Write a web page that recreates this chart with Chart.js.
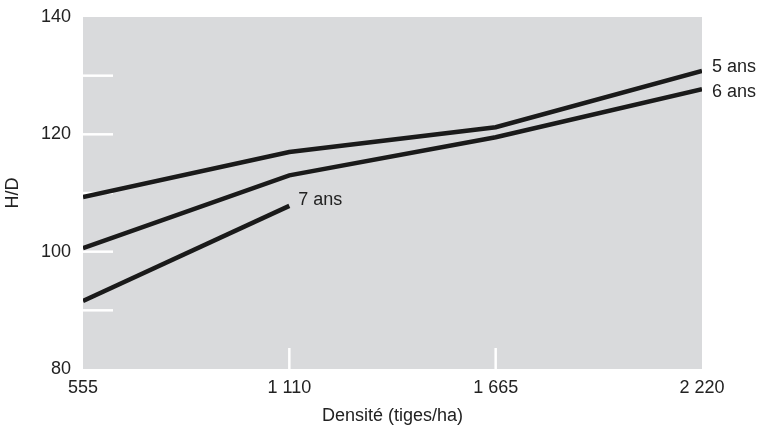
<!DOCTYPE html>
<html>
<head>
<meta charset="utf-8">
<script src="https://cdn.jsdelivr.net/npm/chart.js@4"></script>
<style>
  html, body { margin: 0; padding: 0; background: #fff; }
  #wrap { width: 757px; height: 432px; }
</style>
</head>
<body>
<div id="wrap"><canvas id="chart" width="757" height="432"></canvas></div>
<script>
// data
const densities = [555, 1110, 1665, 2220];
const xTickLabels = ['555', '1 110', '1 665', '2 220'];
const hd5ans = [109.3, 117, 121.2, 130.8];
const hd6ans = [100.6, 113, 119.5, 127.7];
const hd7ans = [91.6, 107.8, null, null];
const seriesNames = ['5 ans', '6 ans', '7 ans'];
const yTicks = [80, 100, 120, 140];
const yMinorTicks = [90, 100, 110, 120, 130];
const xInnerTicks = [1110, 1665];

const FONT = "'Liberation Sans', Arial, sans-serif";
const FSIZE = 18;
const TEXT = '#222';

function pts(arr) {
  return densities.map((d, i) => ({ x: d, y: arr[i] }));
}

// label offsets from the last point of each line
const labelOffsets = [[10, -4], [10, 3], [9, -6]];

const plotBg = {
  id: 'plotBg',
  beforeDraw(chart) {
    const { ctx, chartArea: a } = chart;
    ctx.save();
    ctx.fillStyle = '#d9dadc';
    ctx.fillRect(a.left, a.top, a.right - a.left, a.bottom - a.top);
    ctx.restore();
  },
  beforeDatasetsDraw(chart) {
    const { ctx, chartArea: a, scales } = chart;
    ctx.save();
    ctx.strokeStyle = '#fff';
    ctx.lineWidth = 2.5;
    yMinorTicks.forEach(v => {
      const y = scales.y.getPixelForValue(v);
      ctx.beginPath();
      ctx.moveTo(a.left, y);
      ctx.lineTo(a.left + 30, y);
      ctx.stroke();
    });
    xInnerTicks.forEach(v => {
      const x = scales.x.getPixelForValue(v);
      ctx.beginPath();
      ctx.moveTo(x, a.bottom);
      ctx.lineTo(x, a.bottom - 21);
      ctx.stroke();
    });
    ctx.restore();
  },
  afterDatasetsDraw(chart) {
    const { ctx } = chart;
    ctx.save();
    ctx.font = FSIZE + 'px ' + FONT;
    ctx.fillStyle = TEXT;
    ctx.textBaseline = 'middle';
    chart.data.datasets.forEach((ds, i) => {
      const meta = chart.getDatasetMeta(i);
      let last = null;
      meta.data.forEach((p, j) => { if (ds.data[j].y != null) last = p; });
      if (!last) return;
      ctx.fillText(seriesNames[i], last.x + labelOffsets[i][0], last.y + labelOffsets[i][1]);
    });
    ctx.restore();
  }
};

const lineStyle = {
  borderColor: '#1a1a1a',
  borderWidth: 4.5,
  pointRadius: 0,
  tension: 0,
  fill: false,
  spanGaps: false
};

new Chart(document.getElementById('chart'), {
  type: 'line',
  data: {
    datasets: [
      Object.assign({ label: seriesNames[0], data: pts(hd5ans) }, lineStyle),
      Object.assign({ label: seriesNames[1], data: pts(hd6ans) }, lineStyle),
      Object.assign({ label: seriesNames[2], data: pts(hd7ans) }, lineStyle)
    ]
  },
  options: {
    responsive: false,
    animation: false,
    layout: { padding: { top: 17, right: 55, left: 0, bottom: 0 } },
    plugins: {
      legend: { display: false },
      tooltip: { enabled: false }
    },
    scales: {
      x: {
        type: 'linear',
        min: 555,
        max: 2220,
        afterBuildTicks(scale) {
          scale.ticks = densities.map(v => ({ value: v }));
        },
        afterFit(scale) {
          scale.height = 63;
          scale.paddingLeft = 0;
          scale.paddingRight = 0;
        },
        grid: { display: false, drawTicks: false },
        border: { display: false },
        ticks: {
          padding: 8,
          color: TEXT,
          font: { family: FONT, size: FSIZE },
          maxRotation: 0,
          callback(v) {
            const i = densities.indexOf(v);
            return i >= 0 ? xTickLabels[i] : '';
          }
        },
        title: {
          display: true,
          text: 'Densité (tiges/ha)',
          color: TEXT,
          font: { family: FONT, size: FSIZE },
          padding: { top: 0, bottom: 5 }
        }
      },
      y: {
        min: 80,
        max: 140,
        afterBuildTicks(scale) {
          scale.ticks = yTicks.map(v => ({ value: v }));
        },
        afterFit(scale) {
          scale.width = 83;
          scale.paddingTop = 0;
          scale.paddingBottom = 0;
        },
        grid: { display: false, drawTicks: false },
        border: { display: false },
        ticks: {
          padding: 12,
          color: TEXT,
          font: { family: FONT, size: FSIZE }
        },
        title: {
          display: true,
          text: 'H/D',
          color: TEXT,
          font: { family: FONT, size: FSIZE },
          padding: { top: 2, bottom: 0 }
        }
      }
    }
  },
  plugins: [plotBg]
});
</script>
</body>
</html>
